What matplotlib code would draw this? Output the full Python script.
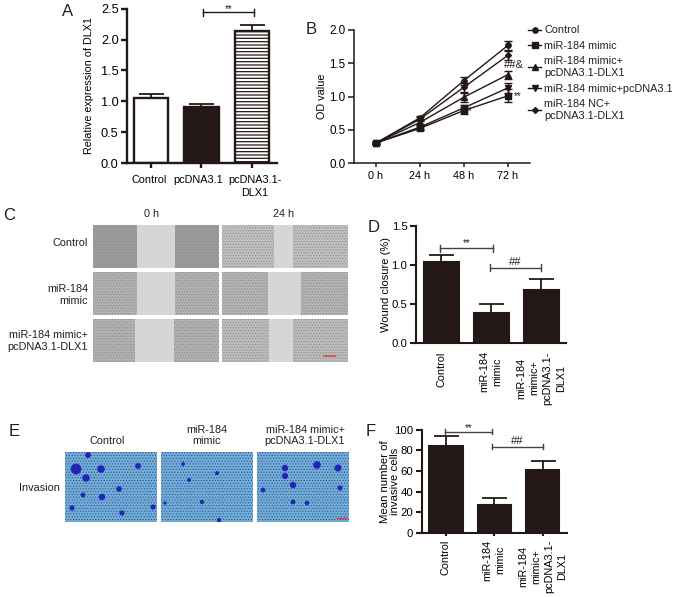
import matplotlib
matplotlib.use("Agg")
import matplotlib.pyplot as plt
from matplotlib.patches import Rectangle
from matplotlib.transforms import ScaledTranslation

W, H = 677, 597
DARK = "#231815"
plt.rcParams["font.family"] = ["Liberation Sans", "DejaVu Sans"]
plt.rcParams["text.color"] = "#231f20"

# Panel A
a_labels = ["Control", "pcDNA3.1", "pcDNA3.1-\nDLX1"]
a_values = [1.05, 0.90, 2.14]
a_errors = [0.07, 0.05, 0.10]
a_yticks = [0.0, 0.5, 1.0, 1.5, 2.0, 2.5]

# Panel B
b_times = ["0 h", "24 h", "48 h", "72 h"]
b_yticks = [0.0, 0.5, 1.0, 1.5, 2.0]
b_control = [0.30, 0.68, 1.24, 1.77]
b_control_err = [0.02, 0.03, 0.06, 0.07]
b_mimic = [0.30, 0.52, 0.79, 1.01]
b_mimic_err = [0.02, 0.03, 0.05, 0.10]
b_mimic_dlx = [0.30, 0.61, 0.99, 1.33]
b_mimic_dlx_err = [0.02, 0.03, 0.07, 0.06]
b_mimic_pc = [0.30, 0.54, 0.83, 1.13]
b_mimic_pc_err = [0.02, 0.03, 0.04, 0.08]
b_nc_dlx = [0.30, 0.66, 1.14, 1.62]
b_nc_dlx_err = [0.02, 0.03, 0.07, 0.07]
b_names = ["Control", "miR-184 mimic", "miR-184 mimic+\npcDNA3.1-DLX1",
           "miR-184 mimic+pcDNA3.1", "miR-184 NC+\npcDNA3.1-DLX1"]

# Panel D
d_labels = ["Control", "miR-184\nmimic", "miR-184\nmimic+\npcDNA3.1-\nDLX1"]
d_values = [1.03, 0.39, 0.68]
d_errors = [0.09, 0.11, 0.14]
d_yticks = [0.0, 0.5, 1.0, 1.5]

# Panel F
f_values = [84, 27, 60.5]
f_errors = [9.5, 6.5, 9]
f_yticks = [0, 20, 40, 60, 80, 100]

# Panel C / E labels
c_rows = ["Control", "miR-184\nmimic", "miR-184 mimic+\npcDNA3.1-DLX1"]
c_cols = ["0 h", "24 h"]
e_cols = ["Control", "miR-184\nmimic", "miR-184 mimic+\npcDNA3.1-DLX1"]

# Largest stained clusters seen in panel E (pixel x, pixel y, relative size)
e_blobs_x = [76, 86, 101, 88, 138, 102, 119, 72, 122, 153, 83, 183, 217, 202, 219, 165, 189,
             285, 317, 338, 293, 263, 285, 293, 307, 340]
e_blobs_y = [469, 478, 469, 455, 466, 497, 489, 508, 513, 507, 495, 464, 473, 502, 520, 503, 480,
             468, 465, 468, 485, 490, 476, 502, 503, 488]
e_blobs_s = [60, 30, 30, 18, 18, 22, 16, 14, 14, 14, 12, 8, 8, 10, 10, 6, 8,
             22, 30, 26, 22, 12, 20, 12, 10, 14]

fig = plt.figure(figsize=(W / 100, H / 100), dpi=100, facecolor="white")


def new_axes(x0, x1, ytop, ybot):
    return fig.add_axes([x0 / W, 1 - ybot / H, (x1 - x0) / W, (ybot - ytop) / H])


bg = new_axes(0, W, 0, H)
bg.set_xlim(0, W)
bg.set_ylim(H, 0)
bg.axis("off")


def style(ax, tick_fs, lw=1.5, xlen=3.5, xpad=3):
    for s in ("top", "right"):
        ax.spines[s].set_visible(False)
    for s in ("left", "bottom"):
        ax.spines[s].set_linewidth(lw)
        ax.spines[s].set_color(DARK)
    ax.tick_params(axis="y", width=lw, length=4, labelsize=tick_fs, color=DARK, pad=2)
    ax.tick_params(axis="x", width=lw, length=xlen, color=DARK, pad=xpad)
    ax.patch.set_alpha(0)


def bracket(ax, x0, x1, y, dy, text, ty, color=DARK, fs=7):
    ax.plot([x0, x0, None, x0, x1, None, x1, x1], [y - dy, y + dy, None, y, y, None, y - dy, y + dy],
            color=color, lw=1.0, clip_on=False)
    ax.text((x0 + x1) / 2, ty, text, ha="center", va="center", fontsize=fs, clip_on=False)


def bar_panel(ax, values, errors, colors, hatches, width, capsize, labels, fs, rot=0, lw=1.5):
    xs = range(len(values))
    ax.bar(xs, values, width=width, color=colors, edgecolor=DARK, linewidth=lw, hatch=hatches)
    ax.errorbar(xs, values, yerr=[[0] * len(errors), errors], fmt="none", ecolor=DARK,
                elinewidth=1.3, capsize=capsize, capthick=1.3)
    ax.set_xticks(list(xs))
    if rot:
        ax.set_xticklabels(labels, rotation=rot, ha="center", va="top", fontsize=fs, linespacing=1.38)
    else:
        ax.set_xticklabels(labels, fontsize=fs, linespacing=1.35)


# ---- A
plt.rcParams["hatch.linewidth"] = 0.9
plt.rcParams["hatch.color"] = "#777777"
axA = new_axes(127, 277, 8.7, 163)
style(axA, 9.2, lw=1.7, xpad=5)
bar_panel(axA, a_values, a_errors, ["white", DARK, "white"], ["", "", "-----"], 0.68, 9,
          a_labels, 7.8, lw=1.7)
axA.set_xlim(-0.477, 2.5)
axA.set_ylim(0, 2.5)
axA.set_yticks(a_yticks)
axA.set_ylabel("Relative expression of DLX1", fontsize=7.75, labelpad=5)
for lab, dx in zip(axA.get_xticklabels(), [-2, -3, 3]):
    lab.set_transform(lab.get_transform() + ScaledTranslation(dx / 100, 0, fig.dpi_scale_trans))
bracket(axA, 1.03, 2.05, 2.44, 0.06, "**", 2.50, fs=7)

# ---- B
axB = new_axes(354, 530, 30, 163)
style(axB, 8.4, lw=1.1, xlen=3)
series = [(b_control, b_control_err, "o"), (b_mimic, b_mimic_err, "s"), (b_mimic_dlx, b_mimic_dlx_err, "^"),
          (b_mimic_pc, b_mimic_pc_err, "v"), (b_nc_dlx, b_nc_dlx_err, "D")]
for (vals, errs, mk), name in zip(series, b_names):
    axB.errorbar(range(4), vals, yerr=errs, color=DARK, lw=1.0, marker=mk, ms=3.8 if mk != "D" else 3.0,
                 elinewidth=1.0, capsize=2.6, capthick=1.0, label=name, clip_on=False)
axB.set_xlim(-0.497, 3.5)
axB.set_ylim(0, 2.0)
axB.set_xticks(range(4))
axB.set_xticklabels(b_times, fontsize=7.8)
axB.set_yticks(b_yticks)
axB.set_ylabel("OD value", fontsize=7.8, labelpad=1.5)
leg_handles = [plt.Line2D([], [], color=DARK, lw=1.0, marker=m, ms=3.8 if m != "D" else 3.0) for _, _, m in series]
leg = axB.legend(leg_handles, b_names, loc="upper left", bbox_to_anchor=(174 / 176, 1.035), frameon=False,
                 fontsize=7.8, handlelength=1.2, handletextpad=0.3, labelspacing=0.5, borderpad=0, borderaxespad=0)
for t in leg.get_texts():
    t.set_linespacing(1.25)
axB.text(2.9, 1.47, "##&", fontsize=8, ha="left", va="center")
axB.text(3.13, 1.01, "**", fontsize=7, ha="left", va="center")
axB.text(2.13, 0.78, "*", fontsize=7, ha="center", va="center")

# ---- D
axD = new_axes(415.7, 566, 225.7, 343)
style(axD, 8.2, xlen=0, xpad=6)
bar_panel(axD, d_values, d_errors, [DARK] * 3, [""] * 3, 0.70, 9, d_labels, 7.8, rot=90)
axD.set_xlim(-0.515, 2.5)
axD.set_ylim(0, 1.5)
axD.set_yticks(d_yticks)
axD.set_ylabel("Wound closure (%)", fontsize=8.0, labelpad=0)
bracket(axD, -0.03, 1.03, 1.21, 0.045, "**", 1.28, color="#444444", fs=7)
bracket(axD, 0.97, 1.99, 0.96, 0.045, "##", 1.04, color="#444444", fs=8)

# ---- F
axF = new_axes(421.7, 566.7, 429.7, 532.7)
style(axF, 8.2, xlen=2)
bar_panel(axF, f_values, f_errors, [DARK] * 3, [""] * 3, 0.69, 9, d_labels, 7.8, rot=90)
axF.set_xlim(-0.5, 2.5)
axF.set_ylim(0, 100)
axF.set_yticks(f_yticks)
axF.set_ylabel("Mean number of\ninvasive cells", fontsize=8.2, labelpad=-4, linespacing=0.95)
bracket(axF, -0.01, 0.95, 98, 2.6, "**", 102, color="#444444", fs=7)
bracket(axF, 0.95, 2.0, 83.5, 2.6, "##", 89, color="#444444", fs=8)


# ---- C: micrograph stand-ins (cell sheet with a clear wound gap)
def micro(x0, x1, y0, y1, gap0, gap1, cell):
    bg.add_patch(Rectangle((x0, y0), x1 - x0, y1 - y0, facecolor=cell, edgecolor="#8c8c8c",
                           hatch="......", linewidth=0))
    bg.add_patch(Rectangle((gap0, y0), gap1 - gap0, y1 - y0, facecolor="#d6d6d6", edgecolor="none"))


plt.rcParams["hatch.linewidth"] = 0.5
c_y = [(225, 268), (272, 315), (319, 362)]
c_gap_0 = [(137, 175), (137, 175), (135, 174)]
c_gap_24 = [(274, 293), (268, 301), (269, 293)]
c_cell_0 = ["#9c9c9c", "#b2b2b2", "#b2b2b2"]
c_cell_24 = ["#c0c0c0", "#b4b4b4", "#bcbcbc"]
for (y0, y1), g0, g24, c0, c24 in zip(c_y, c_gap_0, c_gap_24, c_cell_0, c_cell_24):
    micro(93, 219, y0, y1, g0[0], g0[1], c0)
    micro(222, 348, y0, y1, g24[0], g24[1], c24)
bg.plot([324, 335], [355.5, 355.5], color="#e03a3e", lw=1.1)
for x, t in zip([152, 284], c_cols):
    bg.text(x, 214, t, ha="center", va="center", fontsize=7.8)
for y, t in zip([243, 295, 341], c_rows):
    bg.text(88, y, t, ha="right", va="center", fontsize=7.8, linespacing=1.2, multialignment="right")

# ---- E: micrograph stand-ins
for x0, x1 in zip([64.7, 161, 256.7], [157, 253, 349]):
    bg.add_patch(Rectangle((x0, 451.7), x1 - x0, 70.3, facecolor="#70b2d0", edgecolor="#3a44b8",
                           hatch="......", linewidth=0))
bg.scatter(e_blobs_x, e_blobs_y, s=e_blobs_s, color="#2226b4", linewidths=0, zorder=3)
bg.plot([337, 346], [518, 518], color="#e03a3e", lw=1.0, zorder=4)
for x, y, t in zip([107, 207, 305], [441.5, 435.5, 435.5], e_cols):
    bg.text(x, y, t, ha="center", va="center", fontsize=7.8, linespacing=1.2)
bg.text(60, 487.7, "Invasion", ha="right", va="center", fontsize=7.8)

# ---- panel letters
for x, y, t in [(68, 12, "A"), (311, 29, "B"), (9, 216, "C"), (374, 227, "D"), (14, 431, "E"), (371, 431, "F")]:
    bg.text(x, y, t, ha="center", va="center", fontsize=12)

fig.savefig("out.png", dpi=100, facecolor="white")
